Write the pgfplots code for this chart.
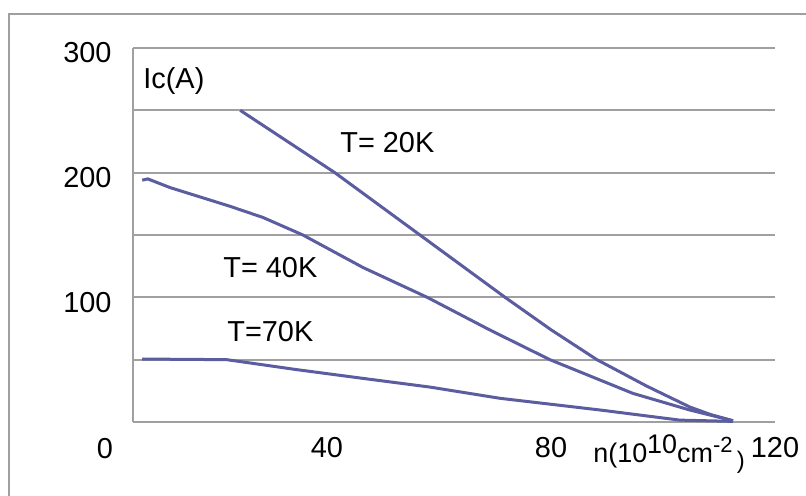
\documentclass[border=0pt]{standalone}
\usepackage{fontspec}
\setmainfont{Liberation Sans}
\usepackage{pgfplots}
\pgfplotsset{compat=1.18}
\definecolor{curve}{RGB}{92,92,160}
\definecolor{gridgray}{RGB}{160,160,160}
\begin{document}
\fontsize{14.5}{17}\selectfont
\begin{tikzpicture}
\path[use as bounding box] (0,0) rectangle (403bp,248bp);
\draw[gridgray, line width=1bp] (4.5bp,0) -- (4.5bp,241bp) -- (403bp,241bp);
\begin{axis}[
  at={(66.5bp,37bp)}, anchor=south west,
  scale only axis, width=321bp, height=187bp,
  xmin=5.357, xmax=120, ymin=0, ymax=300,
  axis lines=left,
  axis line style={-, gridgray, line width=1bp},
  xtick={40,80,120},
  ytick={100,200,300},
  extra y ticks={50,150,250},
  extra y tick labels={},
  extra y tick style={grid=major},
  ymajorgrids,
  grid style={gridgray, line width=1bp},
  major tick length=0pt,
  /pgf/number format/assume math mode=true,
  tick label style={font=\fontsize{14.5}{17}\selectfont},
  yticklabel style={xshift=-5.7bp, yshift=-2.5bp},
  xticklabel style={yshift=-2.7bp},
  clip=false,
]
\addplot[curve, line width=1.5bp, line join=round] coordinates {
 (24.5,250) (31.6,229) (41.4,200) (49,175) (56.6,150) (64.2,125) (71.8,100)
 (80,74) (88.2,50) (97,29) (104.8,12) (108.5,6) (112.5,1)
};
\addplot[curve, line width=1.5bp, line join=round] coordinates {
 (7.0,194) (8.0,195) (12.0,188) (22.7,173) (28.6,164) (35.7,150)
 (46.4,124) (57.9,100) (69,74) (79.8,50) (94.6,23) (104.8,9.6) (112.5,1)
};
\addplot[curve, line width=1.5bp, line join=round] coordinates {
 (7.0,50.5) (22.1,50) (34.6,42) (46.4,35) (58.4,28) (70.9,19)
 (88.8,9.6) (103.0,1.5) (112.5,0.5)
};
\end{axis}
\node[anchor=base west, inner sep=0] at (71.5bp,203.5bp) {Ic(A)};
\node[anchor=base west, inner sep=0] at (170bp,171.5bp) {T= 20K};
\node[anchor=base west, inner sep=0] at (111.5bp,109bp) {T= 40K};
\node[anchor=base west, inner sep=0] at (113.5bp,77bp) {T=70K};
\node[anchor=base, inner sep=0] at (52.5bp,19bp) {0};
\node[anchor=base west, inner sep=0] at (296.5bp,17bp) {\fontsize{13.5}{16}\selectfont n(10\raisebox{4.5bp}{\fontsize{13.5}{16}\selectfont 10}cm\raisebox{5bp}{\fontsize{11}{13}\selectfont -2}\,\raisebox{-3bp}{\fontsize{12}{14}\selectfont )}};
\end{tikzpicture}
\end{document}
